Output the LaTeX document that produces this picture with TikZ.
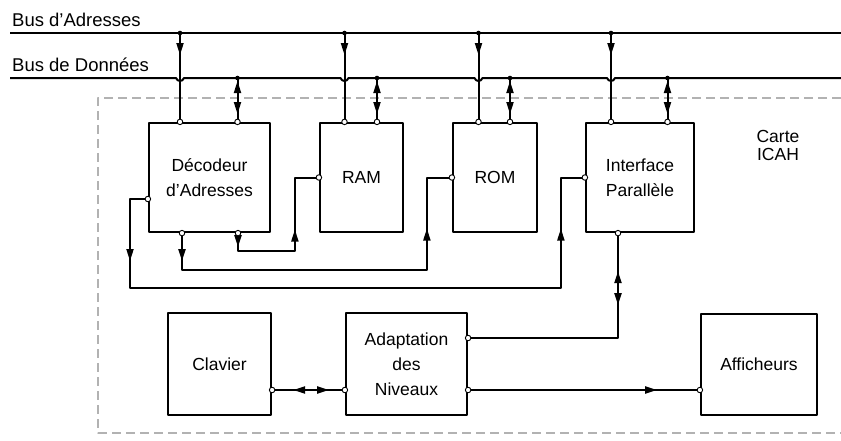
\documentclass[tikz,border=0pt]{standalone}
\usepackage{fontspec}
\setmainfont{Liberation Sans}
\usetikzlibrary{arrows.meta,calc}

\tikzset{
  blk/.style={draw,line width=2.2pt,inner sep=0pt,align=center},
  wire/.style={line width=2pt},
  bus/.style={line width=2pt},
  tip/.style={wire,-{Triangle[length=12pt,width=7pt]}},
  frame/.style={draw=gray!60,line width=1.3pt,dash pattern=on 9pt off 5pt},
  term/.style={circle,draw,fill=white,line width=0.9pt,inner sep=0pt,minimum size=5.5pt},
}

\begin{document}
\begin{tikzpicture}[x=1pt,y=-1pt,font=\fontsize{17.5}{25}\selectfont,line join=round]
  \useasboundingbox (0,0) rectangle (841,440);

  %% ---------------------------------------------------------------
  %% buses
  %% ---------------------------------------------------------------
  \node[anchor=base west,inner sep=0pt,font=\fontsize{18.5}{22}\selectfont] (lblA) at (12,26.5) {Bus d’Adresses};
  \node[anchor=base west,inner sep=0pt,font=\fontsize{18.5}{22}\selectfont] (lblD) at (12,71) {Bus de Données};
  \draw[bus] (10,33) -- (841,33);
  % data bus, with a small hop at every address line
  \draw[bus] (10,78) \foreach \h in {180,344.5,478.5,611}
    { -- (\h-4,78) .. controls (\h-2.5,82) and (\h+2.5,82) .. (\h+4,78) } -- (841,78);

  % the card outline
  \draw[frame] (841,98) -- (98,98) -- (98,433) -- (841,433);
  \node[align=center,font=\fontsize{17.5}{18}\selectfont] (carte) at (778,145) {Carte\\ICAH};

  %% ---------------------------------------------------------------
  %% blocks
  %% ---------------------------------------------------------------
  \node[blk,minimum width=121pt,minimum height=109pt] (dec) at (209.5,177.5) {Décodeur\\d’Adresses};
  \node[blk,minimum width=83pt,minimum height=109pt] (ram) at (361.5,177.5) {RAM};
  \node[blk,minimum width=84pt,minimum height=109pt] (rom) at (495,177.5) {ROM};
  \node[blk,minimum width=108pt,minimum height=109pt] (ifc) at (640,177.5) {Interface\\Parallèle};
  \node[blk,minimum width=103pt,minimum height=102pt] (clav) at (219.5,364) {Clavier};
  \node[blk,minimum width=121pt,minimum height=102pt] (ada) at (406.5,364) {Adaptation\\des\\Niveaux};
  \node[blk,minimum width=116pt,minimum height=101pt] (aff) at (759,364.5) {Afficheurs};

  % terminals on the block edges
  \coordinate (dec-l) at (dec.west |- 0,199);
  \coordinate (dec-b1) at (dec.south -| 182,0);
  \coordinate (dec-b2) at (dec.south -| 238,0);
  \coordinate (ram-l) at (ram.west);
  \coordinate (rom-l) at (rom.west);
  \coordinate (ifc-l) at (ifc.west);
  \coordinate (ifc-b) at (ifc.south -| 618,0);
  \coordinate (ada-r1) at (ada.east |- 0,338);
  \coordinate (ada-r2) at (ada.east |- 0,390);
  \coordinate (ada-l) at (ada.west |- 0,390);
  \coordinate (clav-r) at (clav.east |- 0,390);
  \coordinate (aff-l) at (aff.west |- 0,390);
  % corners of the select lines
  \coordinate (ram-c) at ($(ram-l)+(-24,0)$);
  \coordinate (rom-c) at ($(rom-l)+(-25,0)$);
  \coordinate (ifc-c) at ($(ifc-l)+(-24,0)$);

  %% ---------------------------------------------------------------
  %% bus taps
  %% ---------------------------------------------------------------
  \foreach \m/\a/\d in {dec/180/237.5,ram/344.5/377,rom/478.5/510,ifc/611/667.5}{
    \coordinate (\m-a) at (\a,33);
    \coordinate (\m-d) at (\d,78);
    \draw[wire] (\m-a) -- (\m-a |- \m.north);
    \draw[wire] (\m-d) -- (\m-d |- \m.north);
    \draw[tip] (\m-a) -- ++(0,22);
    \draw[tip] ($(\m-d)+(0,16)$) -- ++(0,-13);
    \draw[tip] ($(\m-d)+(0,20)$) -- ++(0,16);
    \fill (\m-a) circle (2.3pt) (\m-d) circle (2.3pt);
    \node[term] (\m-ta) at (\m-a |- \m.north) {};
    \node[term] (\m-td) at (\m-d |- \m.north) {};
  }

  %% ---------------------------------------------------------------
  %% select lines and I/O links
  %% ---------------------------------------------------------------
  % RAM select
  \draw[wire] (dec-b2) -- ++(0,18) -| (ram-c) -- (ram-l);
  \draw[tip] (dec-b2) -- ++(0,14);
  \draw[tip] ($(ram-c)+(0,70)$) -- ($(ram-c)+(0,52)$);
  % ROM select
  \draw[wire] (dec-b1) -- ++(0,37) -| (rom-c) -- (rom-l);
  \draw[tip] (dec-b1) -- ++(0,28);
  \draw[tip] ($(rom-c)+(0,70)$) -- ($(rom-c)+(0,51)$);
  % interface select
  \draw[wire] (dec-l) -| (130,288) -| (ifc-c) -- (ifc-l);
  \draw[tip] (dec-l -| 130,0) -- (130,261);
  \draw[tip] ($(ifc-c)+(0,70)$) -- ($(ifc-c)+(0,51)$);
  % interface <-> adaptation
  \draw[wire] (ifc-b) |- (ada-r1);
  \draw[tip] ($(ifc-b)+(0,52)$) -- ($(ifc-b)+(0,38)$);
  \draw[tip] ($(ifc-b)+(0,56)$) -- ($(ifc-b)+(0,72)$);
  % clavier <-> adaptation
  \draw[wire] (clav-r) -- (ada-l);
  \draw[tip] ($(clav-r)+(35,0)$) -- ($(clav-r)+(21,0)$);
  \draw[tip] ($(clav-r)+(39,0)$) -- ($(clav-r)+(57,0)$);
  % adaptation -> afficheurs
  \draw[wire] (ada-r2) -- (aff-l);
  \draw[tip] (ada-r2) -- ++(189,0);

  \foreach \t in {dec-l,dec-b1,dec-b2,ram-l,rom-l,ifc-l,ifc-b,ada-r1,ada-r2,ada-l,clav-r,aff-l}
    \node[term] (t-\t) at (\t) {};

\end{tikzpicture}
\end{document}
